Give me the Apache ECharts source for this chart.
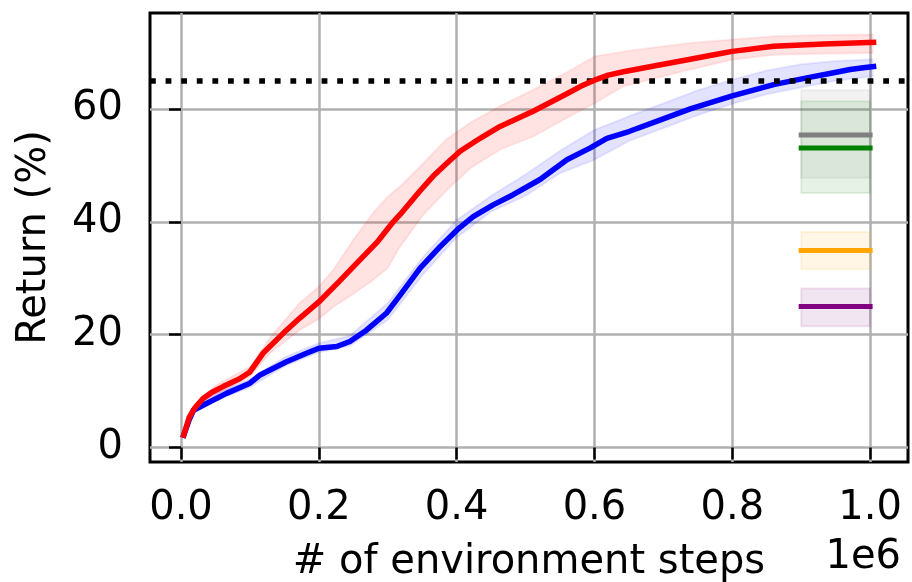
<!DOCTYPE html>
<html><head><meta charset="utf-8">
<script src="https://cdn.jsdelivr.net/npm/echarts@6/dist/echarts.min.js"></script>
<style>html,body{margin:0;padding:0;background:#fff}#c{width:912px;height:582px}</style>
</head><body><div id="c"></div>
<script>
// ---- data ----
const xTicks = [0, 0.2, 0.4, 0.6, 0.8, 1.0];
const yTicks = [0, 20, 40, 60];

const redX = [0.004, 0.012, 0.02, 0.032, 0.045, 0.061, 0.085, 0.1, 0.119, 0.153, 0.172, 0.2, 0.23, 0.26, 0.284, 0.308, 0.318, 0.347, 0.366, 0.385, 0.405, 0.434, 0.463, 0.511, 0.56, 0.58, 0.6, 0.62, 0.642, 0.69, 0.739, 0.787, 0.8, 0.86, 0.933, 1.005];
const redY = [2.2, 5.4, 7.0, 8.7, 9.8, 10.8, 12.2, 13.4, 16.7, 20.8, 22.9, 25.8, 29.5, 33.3, 36.3, 40.0, 41.3, 45.5, 48.1, 50.3, 52.5, 54.8, 56.9, 59.6, 62.7, 64.0, 65.1, 66.0, 66.6, 67.7, 68.8, 69.9, 70.2, 71.1, 71.5, 71.8];

const redBandX = [0.004, 0.02, 0.05, 0.1, 0.13, 0.172, 0.2, 0.221, 0.25, 0.279, 0.3, 0.318, 0.35, 0.385, 0.42, 0.463, 0.511, 0.56, 0.6, 0.642, 0.7, 0.739, 0.8, 0.86, 0.93, 1.005];
const redLo = [1.9, 6.3, 9.2, 12.6, 16.8, 20.8, 22.8, 24.9, 27.2, 29.7, 31.8, 35.6, 41.0, 45.5, 49.5, 52.8, 55.1, 58.4, 61.0, 64.0, 65.8, 67.0, 68.7, 69.6, 69.8, 69.9];
const redHi = [2.6, 7.8, 11.0, 14.3, 19.6, 25.6, 28.5, 31.5, 36.8, 41.6, 44.5, 46.3, 50.2, 54.6, 57.6, 60.5, 63.4, 66.5, 69.3, 70.2, 71.1, 71.7, 72.3, 72.9, 73.1, 73.2];

const blueX = [0.004, 0.012, 0.018, 0.037, 0.066, 0.1, 0.114, 0.153, 0.182, 0.2, 0.226, 0.245, 0.269, 0.298, 0.318, 0.347, 0.376, 0.401, 0.424, 0.453, 0.482, 0.521, 0.56, 0.594, 0.618, 0.65, 0.69, 0.739, 0.8, 0.86, 0.908, 0.947, 0.971, 0.99, 1.005];
const blueY = [2.2, 5.0, 6.6, 7.8, 9.6, 11.4, 12.8, 15.2, 16.7, 17.6, 17.9, 18.8, 20.8, 23.8, 27.0, 31.8, 35.6, 38.6, 40.9, 43.0, 44.8, 47.5, 51.0, 53.1, 54.8, 56.0, 57.8, 60.0, 62.3, 64.3, 65.5, 66.4, 67.0, 67.3, 67.5];

const blueBandX = [0.004, 0.02, 0.05, 0.1, 0.15, 0.2, 0.245, 0.3, 0.35, 0.4, 0.45, 0.5, 0.55, 0.6, 0.65, 0.7, 0.75, 0.8, 0.85, 0.9, 0.95, 1.005];
const blueLo = [1.9, 6.2, 8.3, 10.7, 14.4, 16.9, 18.0, 22.6, 30.5, 37.2, 41.8, 44.6, 48.6, 51.0, 54.3, 56.6, 58.9, 60.9, 62.6, 63.8, 65.0, 65.8];
const blueHi = [2.5, 7.4, 9.6, 12.1, 16.0, 18.5, 19.8, 25.6, 33.6, 40.3, 44.6, 48.4, 52.6, 56.3, 58.7, 61.0, 63.3, 65.2, 66.8, 67.9, 68.5, 68.8];

const baselineNames = ['gray', 'green', 'orange', 'purple'];
const baselineMean = [55.4, 53.1, 34.9, 25.0];
const baselineLo = [47.8, 45.1, 31.6, 21.5];
const baselineHi = [63.3, 61.35, 38.2, 28.2];
const baselineX = [0.9, 1.0];
const targetLine = 65;

// ---- styles ----
const FONT = 'DejaVu Sans';
const baselineColors = ['#808080', '#008000', '#ffa500', '#800080'];
const baselineFills = ['rgba(128,128,128,0.10)', 'rgba(0,128,0,0.10)', 'rgba(255,165,0,0.10)', 'rgba(128,0,128,0.10)'];

function bandSeries(xs, lo, hi, fill, edge) {
  return {
    type: 'custom', coordinateSystem: 'cartesian2d', silent: true, z: 1,
    data: xs.map((x, i) => [x, lo[i], hi[i]]),
    encode: { x: 0, y: [1, 2] },
    renderItem: function (params, api) {
      if (params.dataIndex !== 0) return null;
      const upper = xs.map((x, i) => api.coord([x, hi[i]]));
      const lower = xs.map((x, i) => api.coord([x, lo[i]]));
      const poly = upper.concat(lower.slice().reverse());
      return { type: 'group', children: [
        { type: 'polygon', shape: { points: poly }, style: { fill: fill, stroke: null } },
        { type: 'polyline', shape: { points: upper }, style: { stroke: edge, lineWidth: 2, fill: null, lineJoin: 'round' } },
        { type: 'polyline', shape: { points: lower }, style: { stroke: edge, lineWidth: 2, fill: null, lineJoin: 'round' } }
      ] };
    }
  };
}

function rectBandSeries(k) {
  return {
    type: 'custom', coordinateSystem: 'cartesian2d', silent: true, z: 1,
    data: [[baselineX[0], baselineLo[k], baselineX[1], baselineHi[k]]],
    encode: { x: [0, 2], y: [1, 3] },
    renderItem: function (params, api) {
      const p0 = api.coord([api.value(0), api.value(3)]);
      const p1 = api.coord([api.value(2), api.value(1)]);
      return { type: 'rect', shape: { x: p0[0], y: p0[1], width: p1[0] - p0[0], height: p1[1] - p0[1] },
        style: { fill: baselineFills[k], stroke: baselineFills[k], lineWidth: 2 } };
    }
  };
}

const series = [];
series.push(bandSeries(redBandX, redLo, redHi, 'rgba(255,0,0,0.11)', 'rgba(255,0,0,0.08)'));
series.push(bandSeries(blueBandX, blueLo, blueHi, 'rgba(0,0,255,0.11)', 'rgba(0,0,255,0.08)'));
for (let k = 0; k < baselineNames.length; k++) series.push(rectBandSeries(k));
for (let k = 0; k < baselineNames.length; k++) {
  series.push({
    type: 'line', name: baselineNames[k], silent: true, z: 3, clip: false,
    data: baselineX.map(x => [x, baselineMean[k]]),
    symbol: 'none',
    lineStyle: { color: baselineColors[k], width: 5, cap: 'square' }
  });
}
series.push({
  type: 'line', name: 'blue', silent: true, z: 4, clip: false,
  data: blueX.map((x, i) => [x, blueY[i]]), symbol: 'none',
  lineStyle: { color: '#0000ff', width: 5.5, cap: 'square', join: 'round' }
});
series.push({
  type: 'line', name: 'red', silent: true, z: 5, clip: false,
  data: redX.map((x, i) => [x, redY[i]]), symbol: 'none',
  lineStyle: { color: '#ff0000', width: 5.5, cap: 'square', join: 'round' },
  markLine: { silent: true, symbol: ['none', 'none'], label: { show: false }, animation: false,
    lineStyle: { color: '#000', width: 5.5, type: [5.8, 9.8], cap: 'butt' },
    data: [{ yAxis: targetLine }] }
});

const axisText = { fontFamily: FONT, fontSize: 40, color: '#000' };

const option = {
  animation: false,
  backgroundColor: '#fff',
  title: { text: '1e6', right: 11, top: 538, padding: 0,
    textStyle: { fontFamily: FONT, fontSize: 40, fontWeight: 'normal', color: '#000', lineHeight: 40 } },
  grid: { left: 150, right: 4, top: 13, bottom: 120, show: true, borderColor: '#000', borderWidth: 3,
    backgroundColor: 'transparent', containLabel: false, outerBoundsMode: 'none' },
  xAxis: {
    type: 'value', min: -0.045, max: 1.055,
    name: '# of environment steps', nameLocation: 'middle', nameGap: 81,
    nameTextStyle: { fontFamily: FONT, fontSize: 40, color: '#000' },
    axisLine: { show: false },
    axisTick: { show: true, length: 12, customValues: xTicks, lineStyle: { color: '#000', width: 2.5 } },
    axisLabel: { show: true, margin: 27, customValues: xTicks, formatter: v => v.toFixed(1), ...axisText },
    splitLine: { show: true, lineStyle: { color: '#b0b0b0', width: 2.5 } }
  },
  yAxis: {
    type: 'value', min: -2.56, max: 77.0,
    name: 'Return (%)', nameLocation: 'middle', nameGap: 95,
    nameTextStyle: { fontFamily: FONT, fontSize: 40, color: '#000' },
    axisLine: { show: false },
    axisTick: { show: true, length: 12, customValues: yTicks, lineStyle: { color: '#000', width: 2.5 } },
    axisLabel: { show: true, margin: 27, customValues: yTicks, formatter: v => String(v), ...axisText },
    splitLine: { show: true, lineStyle: { color: '#b0b0b0', width: 2.5 } }
  },
  series: series
};
const chart = echarts.init(document.getElementById('c'), null, { renderer: 'canvas' });
chart.setOption(option);
</script></body></html>
